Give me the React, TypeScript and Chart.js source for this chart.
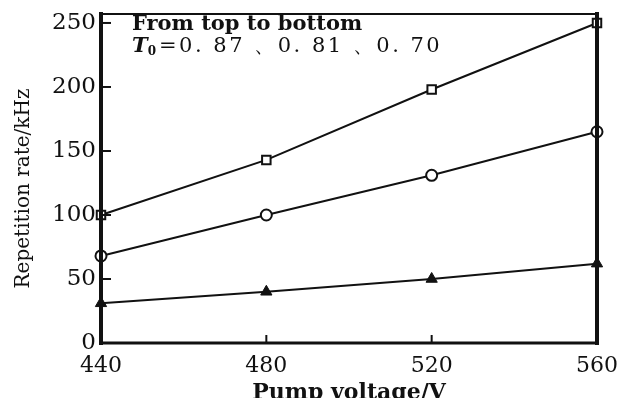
import { useEffect, useRef } from "react";
import { Chart, registerables } from "chart.js";

Chart.register(...registerables);

const voltages = [440, 480, 520, 560];
const rateT087 = [100, 143, 198, 250];
const rateT081 = [68, 100, 131, 165];
const rateT070 = [31, 40, 50, 62];
const yTickValues = [0, 50, 100, 150, 200, 250];
const xTickValues = [440, 480, 520, 560];
const legendLine1 = "From top to bottom";
const legendSymbol = "T";
const legendSub = "0";
const legendValues = "=0. 87 、0. 81 、0. 70";
const xTitle = "Pump voltage/V";
const yTitle = "Repetition rate/kHz";

const SERIF = "'DejaVu Serif', 'Liberation Serif', serif";

const framePlugin = {
  id: "frameAndText",
  afterDatasetsDraw(chart: any) {
    const { ctx, chartArea, scales } = chart;
    const { left, right, top, bottom } = chartArea;
    ctx.save();
    ctx.strokeStyle = "#111";
    ctx.lineCap = "square";
    const seg = (x1: number, y1: number, x2: number, y2: number, w: number) => {
      ctx.lineWidth = w;
      ctx.beginPath();
      ctx.moveTo(x1, y1);
      ctx.lineTo(x2, y2);
      ctx.stroke();
    };
    seg(left, top, right, top, 2);
    seg(left, top, left, bottom, 4);
    seg(left, bottom, right, bottom, 3);
    seg(right, top, right, bottom, 4);
    yTickValues.forEach((v) => {
      if (v === 0) return;
      const y = scales.y.getPixelForValue(v);
      seg(left, y, left + 9, y, 2);
    });
    xTickValues.forEach((v, i) => {
      if (i === 0 || i === xTickValues.length - 1) return;
      const x = scales.x.getPixelForValue(v);
      seg(x, bottom, x, bottom - 7, 2);
    });
    ctx.restore();
  },
  afterDraw(chart: any) {
    const { ctx, chartArea } = chart;
    const { left, right, top, bottom } = chartArea;
    ctx.save();
    ctx.fillStyle = "#111";
    ctx.textBaseline = "middle";
    ctx.textAlign = "left";
    ctx.font = `bold 21px ${SERIF}`;
    ctx.fillText(legendLine1, left + 31, top + 11);
    let x = left + 31;
    const y2 = top + 33;
    ctx.font = `italic bold 21px ${SERIF}`;
    ctx.fillText(legendSymbol, x, y2);
    x += ctx.measureText(legendSymbol).width;
    ctx.font = `bold 12px ${SERIF}`;
    ctx.fillText(legendSub, x, y2 + 5);
    x += ctx.measureText(legendSub).width + 3;
    ctx.font = `21px ${SERIF}`;
    (ctx as any).letterSpacing = "2.5px";
    ctx.fillText(legendValues, x, y2);
    (ctx as any).letterSpacing = "0px";
    ctx.textAlign = "center";
    ctx.font = `bold 22px ${SERIF}`;
    ctx.fillText(xTitle, (left + right) / 2, bottom + 50);
    ctx.save();
    ctx.translate(24, (top + bottom) / 2 + 10);
    ctx.rotate(-Math.PI / 2);
    ctx.font = `20px ${SERIF}`;
    ctx.fillText(yTitle, 0, 0);
    ctx.restore();
    ctx.restore();
  },
};

const zeroPad = (s: any) => {
  s.paddingTop = 0;
  s.paddingBottom = 0;
  s.paddingLeft = 0;
  s.paddingRight = 0;
};

export default function App() {
  const canvasRef = useRef<HTMLCanvasElement | null>(null);

  useEffect(() => {
    const canvas = canvasRef.current;
    if (!canvas) return;
    const mk = (ys: number[]) => voltages.map((v, i) => ({ x: v, y: ys[i] }));
    const chart = new Chart(canvas, {
      type: "line",
      data: {
        datasets: [
          {
            label: "T0 = 0.87",
            data: mk(rateT087),
            borderColor: "#111",
            borderWidth: 2,
            pointStyle: "rect",
            pointRadius: 6,
            pointBackgroundColor: "#fff",
            pointBorderColor: "#111",
            pointBorderWidth: 2,
            fill: false,
            clip: false as any,
          },
          {
            label: "T0 = 0.81",
            data: mk(rateT081),
            borderColor: "#111",
            borderWidth: 2,
            pointStyle: "circle",
            pointRadius: 5.5,
            pointBackgroundColor: "#fff",
            pointBorderColor: "#111",
            pointBorderWidth: 2,
            fill: false,
            clip: false as any,
          },
          {
            label: "T0 = 0.70",
            data: mk(rateT070),
            borderColor: "#111",
            borderWidth: 2,
            pointStyle: "triangle",
            pointRadius: 6.5,
            pointBackgroundColor: "#111",
            pointBorderColor: "#111",
            pointBorderWidth: 1,
            fill: false,
            clip: false as any,
          },
        ],
      },
      options: {
        animation: false,
        responsive: true,
        maintainAspectRatio: false,
        layout: { padding: { top: 14, right: 24, left: 0, bottom: 0 } },
        plugins: {
          legend: { display: false },
          tooltip: { enabled: false },
        },
        scales: {
          x: {
            type: "linear",
            min: 440,
            max: 560,
            grid: { display: false, drawTicks: false },
            border: { display: false },
            ticks: {
              stepSize: 40,
              color: "#111",
              padding: 10,
              font: { family: SERIF, size: 22 },
            },
            afterBuildTicks: (s: any) => {
              s.ticks = xTickValues.map((v) => ({ value: v }));
            },
            afterFit: (s: any) => {
              s.height = 55;
              zeroPad(s);
            },
          },
          y: {
            type: "linear",
            min: 0,
            max: 257,
            grid: { display: false, drawTicks: false },
            border: { display: false },
            ticks: {
              stepSize: 50,
              color: "#111",
              padding: 5,
              font: { family: SERIF, size: 23 },
            },
            afterBuildTicks: (s: any) => {
              s.ticks = yTickValues.map((v) => ({ value: v }));
            },
            afterFit: (s: any) => {
              s.width = 101;
              zeroPad(s);
            },
          },
        },
      },
      plugins: [framePlugin],
    });
    return () => chart.destroy();
  }, []);

  return (
    <div style={{ position: "fixed", left: 0, top: 0, width: 621, height: 398, background: "#fff" }}>
      <canvas ref={canvasRef} />
    </div>
  );
}
